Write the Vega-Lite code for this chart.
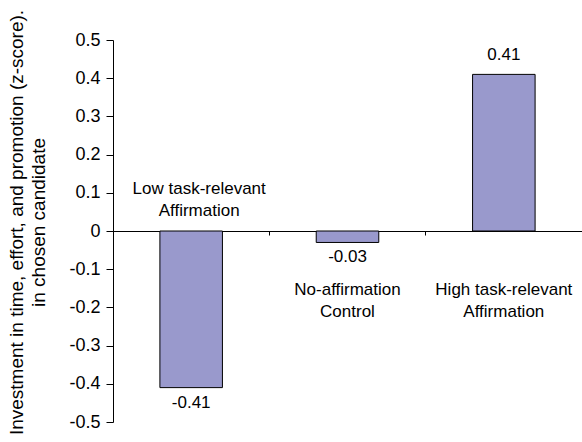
{
  "$schema": "https://vega.github.io/schema/vega-lite/v6.json",
  "width": 469,
  "height": 382,
  "autosize": {"type": "none"},
  "padding": {"left": 113, "top": 40, "right": 0, "bottom": 20},
  "config": {
    "view": {"stroke": null},
    "font": "Liberation Sans",
    "text": {"font": "Liberation Sans"},
    "axis": {"labelOverlap": false},
    "axisY": {"labelOverlap": false}
  },
  "data": {
    "values": [
      {"group": "Low task-relevant\nAffirmation", "value": -0.41, "label": "-0.41", "side": "above"},
      {"group": "No-affirmation\nControl", "value": -0.03, "label": "-0.03", "side": "below"},
      {"group": "High task-relevant\nAffirmation", "value": 0.41, "label": "0.41", "side": "below"}
    ]
  },
  "encoding": {
    "x": {
      "field": "group",
      "type": "nominal",
      "sort": null,
      "scale": {"paddingInner": 0, "paddingOuter": 0},
      "axis": {
        "title": null,
        "labels": false,
        "bandPosition": 0,
        "domainColor": "#000000",
        "tickColor": "#000000",
        "tickSize": 4,
        "offset": -191,
        "domainWidth": 1,
        "grid": false
      }
    },
    "y": {
      "field": "value",
      "type": "quantitative",
      "scale": {"domain": [-0.5, 0.5], "nice": false, "zero": false},
      "axis": {
        "values": [-0.5, -0.4, -0.3, -0.2, -0.1, 0, 0.1, 0.2, 0.3, 0.4, 0.5],
        "labelExpr": "datum.value == 0 ? '0' : (datum.value < 0 ? '-' + format(-datum.value, '.1f') : format(datum.value, '.1f'))",
        "labelOverlap": false,
        "grid": false,
        "domainColor": "#000000",
        "tickColor": "#000000",
        "tickSize": 7,
        "labelFontSize": 18,
        "labelColor": "#000000",
        "labelPadding": 6,
        "labelFont": "Liberation Sans",
        "title": ["Investment in time, effort, and promotion (z-score).", "in chosen candidate"],
        "titleFont": "Liberation Sans",
        "titleFontSize": 19,
        "titleFontWeight": "normal",
        "titleColor": "#000000",
        "titleAngle": -90,
        "titleX": -106,
        "titleY": 182,
        "titleAlign": "center",
        "titleBaseline": "top",
        "titleLineHeight": 22
      }
    }
  },
  "layer": [
    {
      "mark": {"type": "bar", "color": "#9999cc", "stroke": "#000000", "strokeWidth": 1, "width": {"band": 0.4}}
    },
    {
      "transform": [{"filter": "datum.value < 0"}],
      "mark": {"type": "text", "baseline": "top", "dy": 7, "fontSize": 17, "color": "#000000"},
      "encoding": {"text": {"field": "label"}}
    },
    {
      "transform": [{"filter": "datum.value >= 0"}],
      "mark": {"type": "text", "baseline": "alphabetic", "dy": -14, "fontSize": 17, "color": "#000000"},
      "encoding": {"text": {"field": "label"}}
    },
    {
      "transform": [{"filter": "datum.side === 'above'"}],
      "mark": {"type": "text", "baseline": "top", "dy": -50, "dx": 8, "fontSize": 17, "lineBreak": "\n", "lineHeight": 22, "color": "#000000"},
      "encoding": {"y": {"datum": 0, "type": "quantitative"}, "text": {"field": "group"}}
    },
    {
      "transform": [{"filter": "datum.side === 'below'"}],
      "mark": {"type": "text", "baseline": "top", "dy": 51, "fontSize": 17, "lineBreak": "\n", "lineHeight": 22, "color": "#000000"},
      "encoding": {"y": {"datum": 0, "type": "quantitative"}, "text": {"field": "group"}}
    }
  ]
}
